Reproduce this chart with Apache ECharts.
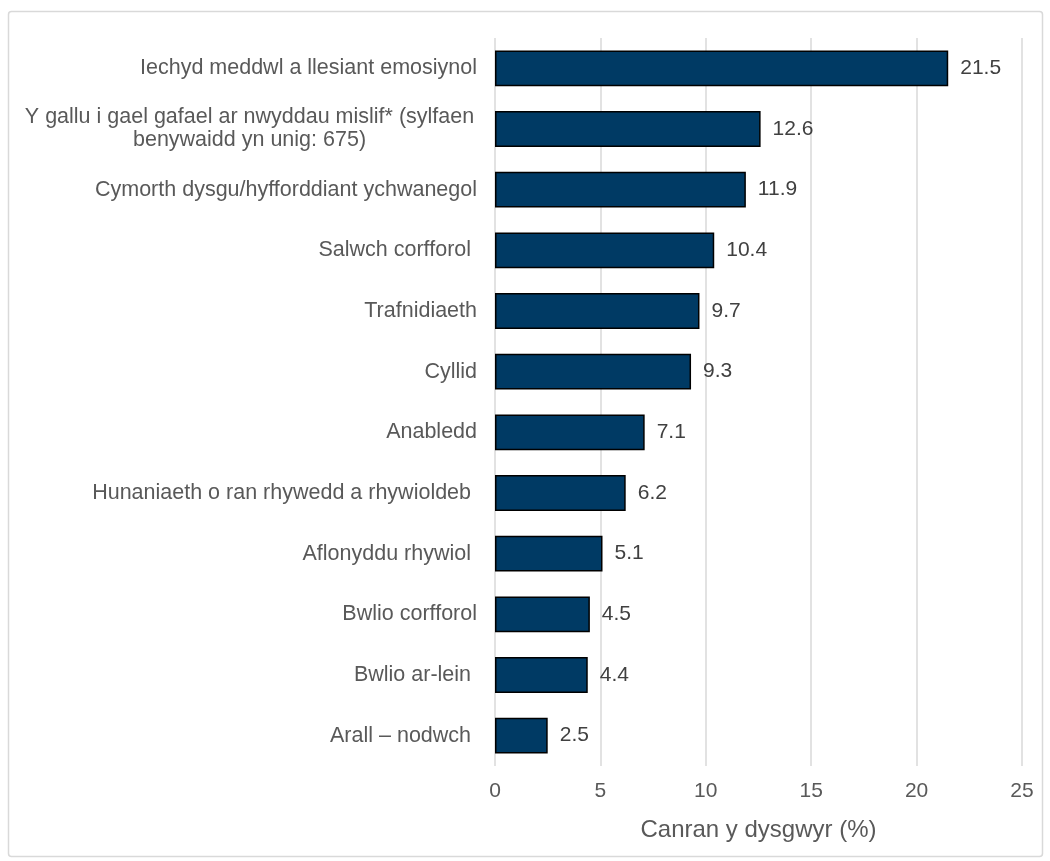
<!DOCTYPE html>
<html>
<head>
<meta charset="utf-8">
<script src="https://cdn.jsdelivr.net/npm/echarts@6/dist/echarts.min.js"></script>
<style>
html,body{margin:0;padding:0;background:#fff;}
#chart{width:1050px;height:861px;}
</style>
</head>
<body>
<div id="chart"></div>
<script>
const categories = [
  'Iechyd meddwl a llesiant emosiynol',
  'Y gallu i gael gafael ar nwyddau mislif* (sylfaen\nbenywaidd yn unig: 675)',
  'Cymorth dysgu/hyfforddiant ychwanegol',
  'Salwch corfforol ',
  'Trafnidiaeth',
  'Cyllid',
  'Anabledd',
  'Hunaniaeth o ran rhywedd a rhywioldeb ',
  'Aflonyddu rhywiol ',
  'Bwlio corfforol',
  'Bwlio ar-lein ',
  'Arall \u2013 nodwch '
];
const values = [21.5, 12.6, 11.9, 10.4, 9.7, 9.3, 7.1, 6.2, 5.1, 4.5, 4.4, 2.5];
const xTicks = [0, 5, 10, 15, 20, 25];
const axisTitle = 'Canran y dysgwyr (%)';

const FONT = "'Liberation Sans', Arial, sans-serif";
const chart = echarts.init(document.getElementById('chart'), null, {renderer: 'canvas'});

chart.setOption({
  animation: false,
  backgroundColor: '#ffffff',
  graphic: [{
    type: 'rect',
    shape: {x: 8.5, y: 11.5, width: 1034, height: 845, r: 3},
    style: {fill: 'none', stroke: '#d9d9d9', lineWidth: 1.5},
    silent: true, z: -1
  }],
  grid: {left: 495, right: 28, top: 38, bottom: 95, containLabel: false},
  xAxis: {
    type: 'value',
    min: xTicks[0],
    max: xTicks[xTicks.length - 1],
    interval: 5,
    axisLine: {show: false},
    axisTick: {show: false},
    splitLine: {show: true, lineStyle: {color: '#d9d9d9', width: 1.5}},
    axisLabel: {color: '#595959', fontSize: 21, fontFamily: FONT, margin: 15},
    name: axisTitle,
    nameLocation: 'middle',
    nameGap: 52,
    nameTextStyle: {color: '#595959', fontSize: 24, fontFamily: FONT}
  },
  yAxis: {
    type: 'category',
    data: categories,
    inverse: true,
    axisLine: {show: false},
    axisTick: {show: false},
    splitLine: {show: false},
    axisLabel: {
      color: '#595959', fontSize: 21.5, fontFamily: FONT, margin: 18,
      lineHeight: 23,
      formatter: function (v) {
        if (v.indexOf('\n') >= 0) {
          return v.split('\n').map(s => '{c|' + s + '}').join('\n');
        }
        return v;
      },
      rich: {
        c: {align: 'center', width: 455, fontSize: 21.5, fontFamily: FONT, color: '#595959', lineHeight: 23}
      }
    }
  },
  series: [{
    type: 'bar',
    data: values,
    barCategoryGap: '41%',
    itemStyle: {color: '#003a64', borderColor: '#000000', borderWidth: 1.5},
    label: {
      show: true, position: 'right', distance: 12,
      color: '#404040', fontSize: 21, fontFamily: FONT,
      formatter: p => p.value.toFixed(1)
    }
  }]
});
</script>
</body>
</html>
